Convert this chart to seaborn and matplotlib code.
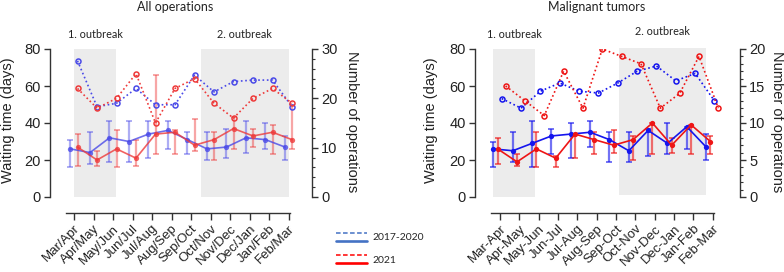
import numpy as np
import pandas as pd
import matplotlib
matplotlib.use("Agg")
import matplotlib.pyplot as plt
import matplotlib.transforms as mtransforms
from matplotlib.lines import Line2D
from matplotlib.legend_handler import HandlerBase
from matplotlib.ticker import MultipleLocator
import seaborn as sns

sns.set_theme(style="white")
plt.rcParams["font.family"] = ["Liberation Sans", "DejaVu Sans"]

# ---------------- data ----------------
periods_all = ["Mar/Apr", "Apr/May", "May/Jun", "Jun/Jul", "Jul/Aug", "Aug/Sep",
               "Sep/Oct", "Oct/Nov", "Nov/Dec", "Dec/Jan", "Jan/Feb", "Feb/Mar"]
periods_tum = ["Mar-Apr", "Apr-May", "May-Jun", "Jun-Jul", "Jul-Aug", "Aug-Sep",
               "Sep-Oct", "Oct-Nov", "Nov-Dec", "Dec-Jan", "Jan-Feb", "Feb-Mar"]

# All operations - waiting time (days), median with range bars
all_wait_1720 = [26, 24, 32, 30, 34, 36, 31, 26, 27, 32, 31, 27]
all_lo_1720 = [16, 18, 19, 19, 21, 26, 23, 20, 21, 24, 26, 20]
all_hi_1720 = [31, 35, 41, 41, 41, 41, 35, 35, 37, 41, 40, 33]
all_wait_21 = [27, 20, 26, 21, 34, 35, 28, 31, 37, 33, 35, 31]
all_lo_21 = [17, 17, 16, 17, 23, 23, 25, 20, 26, 27, 23, 26]
all_hi_21 = [34, 25, 36, 31, 66, 36, 42, 35, 43, 37, 39, 50]
# All operations - number of operations
all_n_1720 = [27.6, 18.3, 19.0, 22.0, 18.7, 18.7, 24.7, 21.3, 23.4, 23.7, 23.7, 18.3]
all_n_21 = [22, 18, 20, 25, 15, 22, 24, 19, 16, 20, 22, 19]

# Malignant tumors - waiting time (days)
tum_wait_1720 = [26, 25, 29, 33, 34, 35, 31, 25, 36, 29, 38, 27]
tum_lo_1720 = [16, 19, 16, 23, 21, 27, 19, 19, 22, 23, 26, 20]
tum_hi_1720 = [30, 35, 41, 37, 40, 41, 35, 35, 37, 40, 38, 34]
tum_wait_21 = [26, 19, 26, 21, 34, 31, 28, 31, 40, 28, 39, 30]
tum_lo_21 = [18, 17, 16, 16, 21, 23, 24, 20, 23, 24, 23, 23]
tum_hi_21 = [32, 23, 35, 22, 34, 35, 36, 33, 40, 32, 39, 33]
# Malignant tumors - number of operations
tum_n_1720 = [13.3, 12.0, 14.3, 15.4, 14.3, 14.05, 15.4, 17.0, 17.7, 15.7, 16.7, 13.0]
tum_n_21 = [15, 13, 11, 17, 12, 20, 19, 18, 12, 14, 19, 12]

# outbreak periods (x-span in category units, y-span in days)
all_outbreaks = [(0.0, 2.15, 0, 80), (6.5, 11.0, 0, 80)]
tum_outbreaks = [(-0.35, 1.83, 0, 80), (6.17, 10.64, 1.3, 80.7)]
outbreak_labels = ["1. outbreak", "2. outbreak"]

legend_labels = ["2017-2020", "2021"]

# ---------------- figure ----------------
W, H = 784, 272
fig = plt.figure(figsize=(W / 100, H / 100), dpi=100)
SPINE = "#333333"
SHADE = "#ececec"
SMALLFONT = ["Lato", "DejaVu Sans"]


def px_rect(x0, x1, ytop, ybot):
    return [x0 / W, 1 - ybot / H, (x1 - x0) / W, (ybot - ytop) / H]


def panel(rect, xlim, labels, w1, lo1, hi1, w2, lo2, hi2, n1, n2, nmax, nmajor,
          nminor, offs, spans, ob_y, title, title_x, cb, cr, line_alpha,
          err_alpha, xbounds, ylab_x, rlab_x):
    ax = fig.add_axes(rect)
    ax2 = ax.twinx()
    x = np.arange(len(labels))

    for (x0, x1, y0, y1) in spans:
        ax.fill_between([x0, x1], [y0, y0], [y1, y1], color=SHADE, lw=0,
                        zorder=0, clip_on=False)

    # waiting-time error bars
    w1a, w2a = np.array(w1), np.array(w2)
    ax.errorbar(x + offs[0], w1a, yerr=[w1a - np.array(lo1), np.array(hi1) - w1a],
                fmt="none", ecolor=cb, elinewidth=1.6, capsize=2.2, capthick=1.4,
                alpha=err_alpha, zorder=2)
    ax.errorbar(x + offs[1], w2a, yerr=[w2a - np.array(lo2), np.array(hi2) - w2a],
                fmt="none", ecolor=cr, elinewidth=1.6, capsize=2.2, capthick=1.4,
                alpha=err_alpha, zorder=2)

    d1 = pd.DataFrame({"x": x + offs[0], "y": w1})
    d2 = pd.DataFrame({"x": x + offs[1], "y": w2})
    sns.lineplot(data=d1, x="x", y="y", ax=ax, color=cb, lw=1.2, marker="o",
                 markersize=3.8, markeredgewidth=0, alpha=line_alpha, zorder=3,
                 errorbar=None)
    sns.lineplot(data=d2, x="x", y="y", ax=ax, color=cr, lw=1.2, marker="o",
                 markersize=3.8, markeredgewidth=0, alpha=line_alpha, zorder=3,
                 errorbar=None)

    # number of operations (right axis)
    d3 = pd.DataFrame({"x": x + offs[2], "y": n1})
    d4 = pd.DataFrame({"x": x + offs[3], "y": n2})
    sns.lineplot(data=d3, x="x", y="y", ax=ax2, color=cb, lw=1.2,
                 linestyle=(0, (1, 1.6)), marker="o", markersize=3.6,
                 markerfacecolor="none", markeredgecolor=cb,
                 markeredgewidth=1.1, errorbar=None)
    sns.lineplot(data=d4, x="x", y="y", ax=ax2, color=cr, lw=1.2,
                 linestyle=(0, (1, 1.6)), marker="o", markersize=3.6,
                 markerfacecolor="none", markeredgecolor=cr,
                 markeredgewidth=1.1, errorbar=None)

    ax.set_xlim(*xlim)
    ax.set_ylim(0, 80)
    ax2.set_ylim(0, nmax)

    for a in (ax, ax2):
        for s in a.spines.values():
            s.set_visible(False)
            s.set_color(SPINE)
            s.set_linewidth(1.0)
    ax.spines["left"].set_visible(True)
    ax.spines["left"].set_bounds(0, 80)
    ax.spines["bottom"].set_visible(True)
    ax.spines["bottom"].set_position(("outward", 11.5))
    ax.spines["bottom"].set_bounds(*xbounds)
    ax2.spines["right"].set_visible(True)
    ax2.spines["right"].set_bounds(0, nmax)

    ax.set_yticks([0, 20, 40, 60, 80])
    ax.tick_params(axis="y", left=True, length=4.5, width=1.0, color=SPINE,
                   labelsize=10.5, pad=2, labelcolor="#222222")
    ax.set_xticks(x)
    ax.set_xticklabels(labels, rotation=45, ha="right", rotation_mode="anchor",
                       fontsize=9.5, color="#222222")
    ax.tick_params(axis="x", bottom=True, length=5, width=1.0, color=SPINE,
                   pad=2)

    ax2.yaxis.set_major_locator(MultipleLocator(nmajor))
    ax2.yaxis.set_minor_locator(MultipleLocator(nminor))
    ax2.tick_params(axis="y", which="major", right=True, length=4.5, width=1.0,
                    color=SPINE, labelsize=10.5, pad=2, labelcolor="#222222")
    ax2.tick_params(axis="y", which="minor", right=True, length=2.5, width=0.8,
                    color=SPINE)

    ax.set_xlabel("")
    ax.set_ylabel("Waiting time (days)", fontsize=10.5, color="#222222")
    ax.yaxis.set_label_coords(ylab_x, 0.52)
    ax2.set_ylabel("Number of operations", fontsize=10.5, color="#222222",
                   rotation=270, va="bottom")
    ax2.yaxis.set_label_coords(rlab_x, 0.507)

    trans = mtransforms.blended_transform_factory(ax.transData, ax.transAxes)
    for (x0, x1, _, _), lab, yy in zip(spans, outbreak_labels, ob_y):
        ax.text((x0 + x1) / 2, yy, lab, transform=trans, ha="center",
                va="center", fontsize=7.8, family=SMALLFONT, color="#222222")
    ax.text(title_x, 1.284, title, transform=ax.transAxes, ha="center",
            va="center", fontsize=9, family=SMALLFONT, color="#222222")
    return ax, ax2


panel(px_rect(50, 312, 49, 197), (-1.231, 12.205), periods_all,
      all_wait_1720, all_lo_1720, all_hi_1720, all_wait_21, all_lo_21, all_hi_21,
      all_n_1720, all_n_21, 30, 10, 2,
      (-0.18, 0.18, 0.18, 0.18), all_outbreaks, (1.101, 1.101),
      "All operations", 0.477, "#4a4ae8", "#ee3a3a", 0.8, 0.45,
      (-0.41, 11.08), -0.134, 1.126)

panel(px_rect(475, 740, 49, 197), (-1.293, 12.41), periods_tum,
      tum_wait_1720, tum_lo_1720, tum_hi_1720, tum_wait_21, tum_lo_21, tum_hi_21,
      tum_n_1720, tum_n_21, 20, 5, 1,
      (-0.34, -0.12, 0.09, 0.29), tum_outbreaks, (1.101, 1.117),
      "Malignant tumors", 0.46, "#1515ee", "#ee1515", 1.0, 0.6,
      (-0.48, 11.07), -0.14, 1.113)


# ---------------- legend ----------------
class PairHandler(HandlerBase):
    def create_artists(self, legend, orig_handle, xdescent, ydescent, width,
                       height, fontsize, trans):
        c = orig_handle.get_color()
        top = Line2D([-xdescent, -xdescent + width], [height * 1.05] * 2,
                     color=c, lw=1.1, linestyle=(0, (3, 1.6)), transform=trans)
        bot = Line2D([-xdescent, -xdescent + width], [-height * 0.05] * 2,
                     color=c, lw=1.9, transform=trans)
        return [top, bot]


handles = [Line2D([], [], color="#4472c4"), Line2D([], [], color="#ff0000")]
fig.legend(handles, legend_labels, handler_map={Line2D: PairHandler()},
           loc="upper left", bbox_to_anchor=(336 / W, 1 - 233 / H),
           bbox_transform=fig.transFigure, frameon=False, borderpad=0,
           borderaxespad=0, handlelength=3.0, handletextpad=0.5,
           labelspacing=1.25, prop={"family": SMALLFONT, "size": 7.5})

fig.savefig("out.png", dpi=100)
